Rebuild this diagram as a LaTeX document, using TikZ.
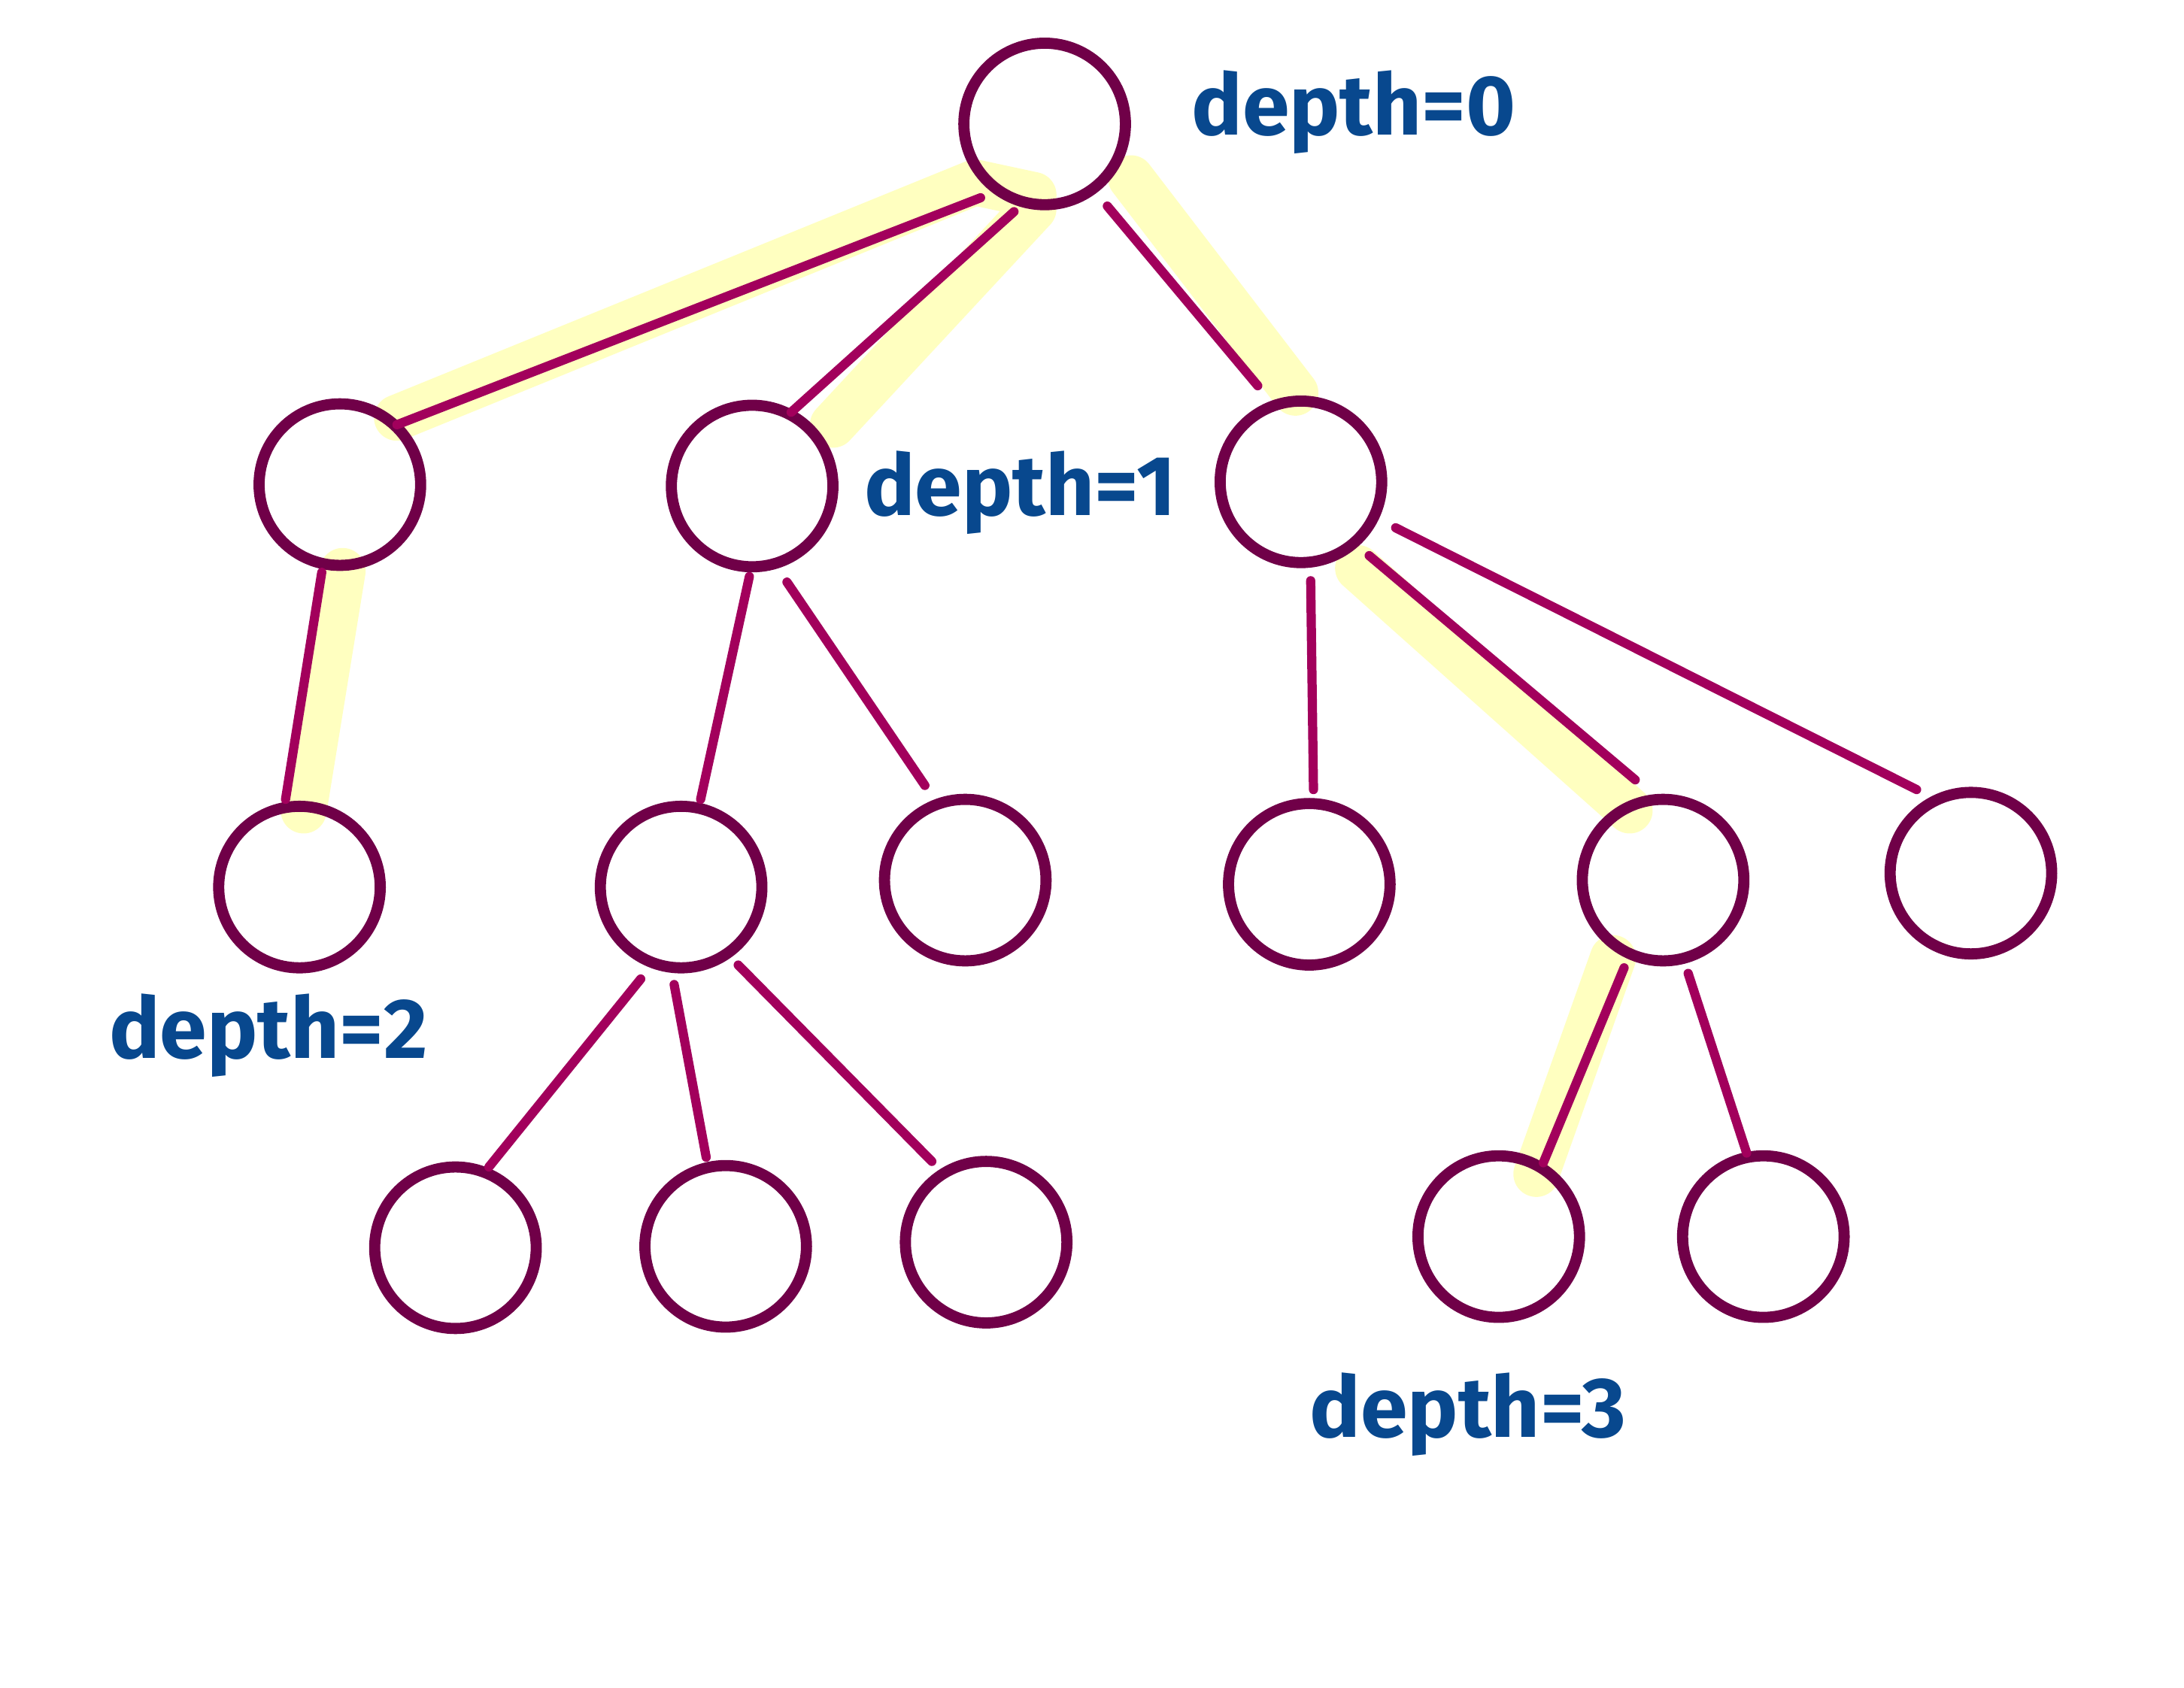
\documentclass[tikz,border=0pt]{standalone}
\usepackage{fontspec}
\setmainfont{Fira Sans}
\usetikzlibrary{calc}
\definecolor{ring}{RGB}{112,0,72}
\definecolor{edgec}{RGB}{162,0,92}
\definecolor{lbl}{RGB}{8,72,142}
\definecolor{hl}{RGB}{255,255,192}
\begin{document}
\begin{tikzpicture}[x=0.5pt,y=-0.5pt,
  treenode/.style={circle,draw=ring,line width=4pt,minimum size=58pt,inner sep=0pt,fill=none},
  tedge/.style={draw=edgec,line width=3.3pt,line cap=round},
  hilite/.style={draw=hl,line width=16.5pt,line cap=round,line join=round},
  depthlbl/.style={text=lbl,font=\fontsize{30.5}{36}\selectfont\bfseries,inner sep=0pt,anchor=base west}]
\useasboundingbox (0,0) rectangle (1568,1212);
% highlights
\draw[hilite] (285,300) -- (700,131) -- (742,140);
\draw[hilite] (742,150) -- (598,305);
\draw[hilite] (812,128) -- (930,282);
\draw[hilite] (246,410) -- (218,582);
\draw[hilite] (975,408) -- (1170,582);
\draw[hilite] (1158,688) -- (1103,843);
% nodes
\node[treenode] (r) at (750,89) {};
\node[treenode] (a) at (244,348) {};
\node[treenode] (b) at (540,349) {};
\node[treenode] (c) at (934,346) {};
\node[treenode] (a1) at (215,637) {};
\node[treenode] (b1) at (489,637) {};
\node[treenode] (b2) at (693,632) {};
\node[treenode] (c1) at (940,635) {};
\node[treenode] (c2) at (1194,632) {};
\node[treenode] (c3) at (1415,627) {};
\node[treenode] (b11) at (327,896) {};
\node[treenode] (b12) at (521,895) {};
\node[treenode] (b13) at (708,892) {};
\node[treenode] (c21) at (1076,888) {};
\node[treenode] (c22) at (1266,888) {};
% edges
\draw[tedge] ($(r)+(-46,53)$) -- ($(a)+(41,-43)$);
\draw[tedge] ($(r)+(-22,63)$) -- ($(b)+(28,-53)$);
\draw[tedge] ($(r)+(45,59)$) -- ($(c)+(-31,-69)$);
\draw[tedge] ($(a)+(-13,63)$) -- ($(a1)+(-10,-63)$);
\draw[tedge] ($(b)+(-2,65)$) -- ($(b1)+(14,-63)$);
\draw[tedge] ($(b)+(25,69)$) -- ($(b2)+(-29,-68)$);
\draw[tedge] ($(c)+(7,71)$) -- ($(c1)+(3,-68)$);
\draw[tedge] ($(c)+(49,53)$) -- ($(c2)+(-20,-72)$);
\draw[tedge] ($(c)+(68,33)$) -- ($(c3)+(-39,-60)$);
\draw[tedge] ($(b1)+(-29,66)$) -- ($(b11)+(24,-58)$);
\draw[tedge] ($(b1)+(-5,70)$) -- ($(b12)+(-14,-64)$);
\draw[tedge] ($(b1)+(41,56)$) -- ($(b13)+(-39,-58)$);
\draw[tedge] ($(c2)+(-28,63)$) -- ($(c21)+(32,-53)$);
\draw[tedge] ($(c2)+(18,67)$) -- ($(c22)+(-12,-60)$);
% labels
\node[depthlbl] (l0) at (855,97) {depth=0};
\node[depthlbl] (l1) at (620,370) {depth=1};
\node[depthlbl] (l2) at (78,760) {depth=2};
\node[depthlbl] (l3) at (940,1032) {depth=3};
\end{tikzpicture}
\end{document}
